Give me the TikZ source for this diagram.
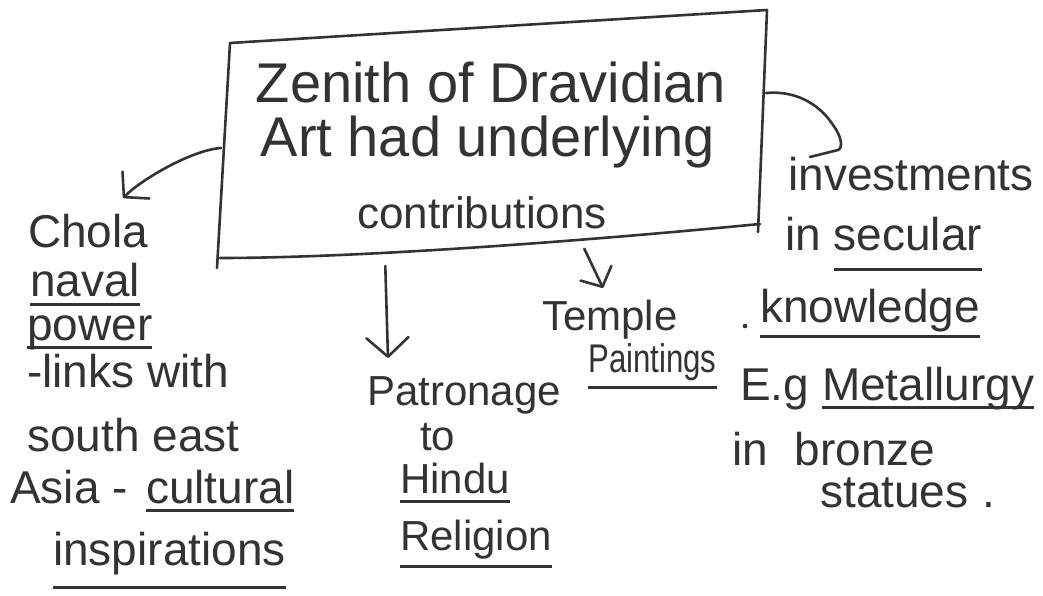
\documentclass[tikz,border=0pt]{standalone}
\usepackage{fontspec}
\usepackage{graphicx}
\setmainfont{Liberation Sans}
\usetikzlibrary{arrows.meta}
\definecolor{ink}{HTML}{333333}
\newcommand{\hul}[2][10pt]{\setbox0=\hbox{#2}\rlap{\rule[-#1]{\wd0}{2.6pt}}\box0}
\begin{document}
\begin{tikzpicture}[x=1pt,y=-1pt,
  pen/.style={draw=ink,line width=2.6pt,line cap=round,line join=round},
  txt/.style={inner sep=0pt,anchor=base west,text=ink},
  big/.style={txt,anchor=base,font=\fontsize{56pt}{60pt}\selectfont},
  hand/.style={txt,font=\fontsize{46pt}{52pt}\selectfont},
  mid/.style={txt,font=\fontsize{42pt}{48pt}\selectfont},
  rgt/.style={txt,font=\fontsize{46pt}{52pt}\selectfont},
  tip/.style={-{Straight Barb[length=#1,width=2*#1+4pt,round]}}]
\useasboundingbox[fill=white] (0,0) rectangle (1043,596);
% main box (hand drawn quadrilateral)
\coordinate (TL) at (230,43);
\coordinate (TR) at (767,10);
\coordinate (BR) at (760,224);
\coordinate (BL) at (220,258);
\draw[pen] (217,268) -- (TL) -- (TR) -- (758,232);
\draw[pen] (BL) .. controls (330,258) and (520,247) .. (BR);
\node[big] (z1) at (491,103) {Zenith of Dravidian};
\node[big] (z2) at (488,157) {Art had underlying};
\node[big,font=\fontsize{44pt}{50pt}\selectfont] (z3) at (482,228) {contributions};
\coordinate (boxW) at (221,148);
\coordinate (boxS1) at (385,256);
\coordinate (boxS2) at (583,246);
\coordinate (boxE) at (766,93);
% left branch
\node[hand] (chola) at (28,247) {Chola};
\node[hand] (naval) at (30,296) {\hul[10pt]{naval}};
\node[hand] (power) at (27,340) {\hul[9pt]{power}};
\node[hand] (links) at (27,387) {-links with};
\node[hand] (south) at (27,451) {south east};
\node[hand] (asia) at (10,503) {Asia -\hspace{0.4em}\hul[9pt]{cultural}};
\node[hand] (insp) at (53,565) {\hul[24pt]{inspirations}};
\coordinate (tipL) at (123,198);
\draw[pen,tip=17pt] (boxW) .. controls (192,150) and (142,179) .. (tipL);
% middle branch
\node[mid] (patr) at (367,405) {Patronage};
\node[mid] (to) at (420,450) {to};
\node[mid] (hindu) at (400,493) {\hul[10pt]{Hindu}};
\node[mid] (relig) at (400,550) {\hul[18pt]{Religion}};
\coordinate (tipM) at (388,358);
\draw[pen,tip=19pt,shorten <=10pt] (boxS1) -- (tipM);
% temple branch
\node[mid] (temple) at (542,330) {Temple};
\node[mid,font=\fontsize{40pt}{46pt}\selectfont] (paint) at (588,372) {\hul[17pt]{\scalebox{0.78}[1]{Paintings}}};
\coordinate (tipT) at (603,288);
\draw[pen,tip=15pt,shorten <=3pt] (boxS2) -- (tipT);
% right branch
\node[rgt] (invest) at (788,190) {investments};
\node[rgt] (secular) at (785,250) {in \hul[21pt]{secular}};
\node[rgt] (know) at (760,322) {\hul[16pt]{knowledge}};
\node[rgt] (eg) at (740,400) {E.g \hul[9pt]{Metallurgy}};
\node[rgt] (bronze) at (732,465) {in\hspace{0.3em} bronze};
\node[rgt] (statues) at (820,507) {statues\hspace{0.3em}.};
\coordinate (hookEnd) at (810,157);
\draw[pen] (boxE) .. controls (800,90) and (822,108) .. (833,125)
  .. controls (842,137) and (843,148) .. (838,150) -- (hookEnd);
\fill[ink] (745,326) circle (2.3);
\end{tikzpicture}
\end{document}
